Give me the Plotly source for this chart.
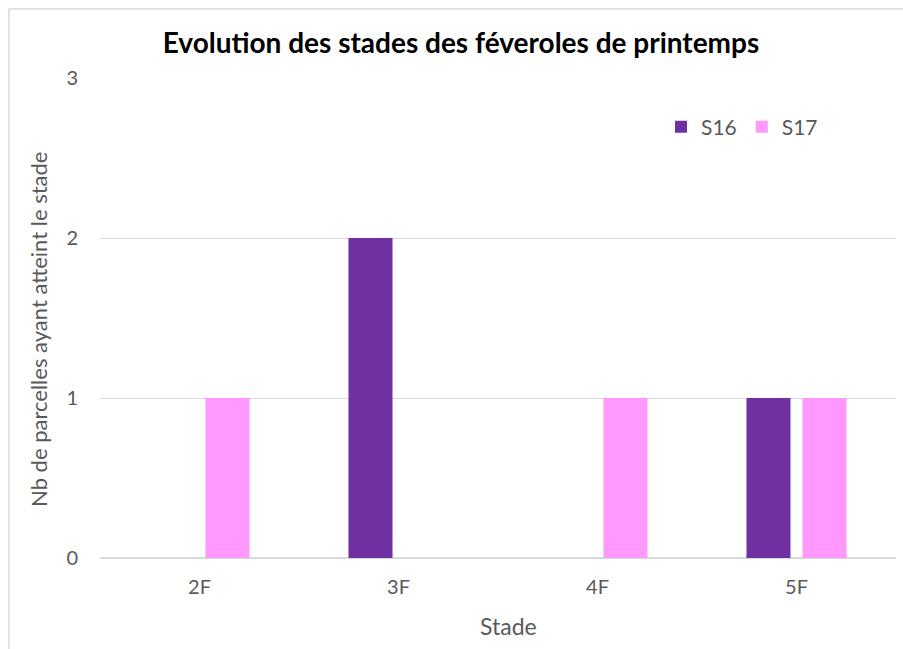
import plotly.graph_objects as go

categories = ["2F", "3F", "4F", "5F"]
s16 = [0, 2, 0, 1]
s17 = [1, 0, 1, 1]
y_ticks = [0, 1, 2, 3]

W, H = 903, 649
L, R, T, B = 100, 7, 78, 91
pw, ph = W - L - R, H - T - B

font_family = "Lato, 'Open Sans', sans-serif"
grey = "#595959"

fig = go.Figure()
fig.add_trace(go.Bar(name="S16", x=categories, y=s16, marker_color="#7030A0",
                     marker_line_width=0))
fig.add_trace(go.Bar(name="S17", x=categories, y=s17, marker_color="#FF99FF",
                     marker_line_width=0))

# chart border (paper coords)
bx0 = (9 - L) / pw
by1 = (H - B - 9) / ph
fig.add_shape(type="rect", xref="paper", yref="paper",
              x0=bx0, x1=1.2, y0=-0.5, y1=by1,
              line=dict(color="#d9d9d9", width=1.5), fillcolor="rgba(0,0,0,0)",
              layer="below")

# axis titles as annotations for exact placement
fig.add_annotation(text="Nb de parcelles ayant atteint le stade", textangle=-90,
                   xref="paper", yref="paper", x=(38 - L) / pw, y=(H - B - 330) / ph,
                   xanchor="center", yanchor="middle", showarrow=False,
                   font=dict(size=22, color=grey, family=font_family))
fig.add_annotation(text="Stade",
                   xref="paper", yref="paper", x=(508 - L) / pw, y=(H - B - 626) / ph,
                   xanchor="center", yanchor="middle", showarrow=False,
                   font=dict(size=23, color=grey, family=font_family))

fig.update_layout(
    width=W, height=H,
    margin=dict(l=L, r=R, t=T, b=B, autoexpand=False),
    paper_bgcolor="white", plot_bgcolor="white",
    barmode="group", bargap=0.437, bargroupgap=0.214,
    font=dict(family=font_family, color=grey, size=20),
    title=dict(text="<b>Evolution des stades des féveroles de printemps</b>",
               x=461 / W, xanchor="center", y=1 - 43 / H, yanchor="middle",
               font=dict(size=28, color="black", family=font_family)),
    legend=dict(orientation="h", x=(661 - L) / pw, xanchor="left",
                y=(H - B - 127) / ph, yanchor="middle",
                font=dict(size=21, color=grey), bgcolor="rgba(0,0,0,0)",
                traceorder="normal"),
    xaxis=dict(automargin=False,
               showgrid=False, showline=False, ticks="", tickfont=dict(size=20, color=grey),
               ticklabelstandoff=15),
    yaxis=dict(automargin=False,
               range=[0, 3], tickvals=y_ticks, showgrid=True, gridcolor="#d9d9d9",
               gridwidth=1, zeroline=True, zerolinecolor="#d9d9d9", zerolinewidth=1.5,
               showline=False, ticks="", tickfont=dict(size=20, color=grey),
               ticklabelstandoff=21),
)

fig.write_html("out.html", config={"displayModeBar": False},
               post_script="document.body.style.margin='0';document.body.style.overflow='hidden';")
